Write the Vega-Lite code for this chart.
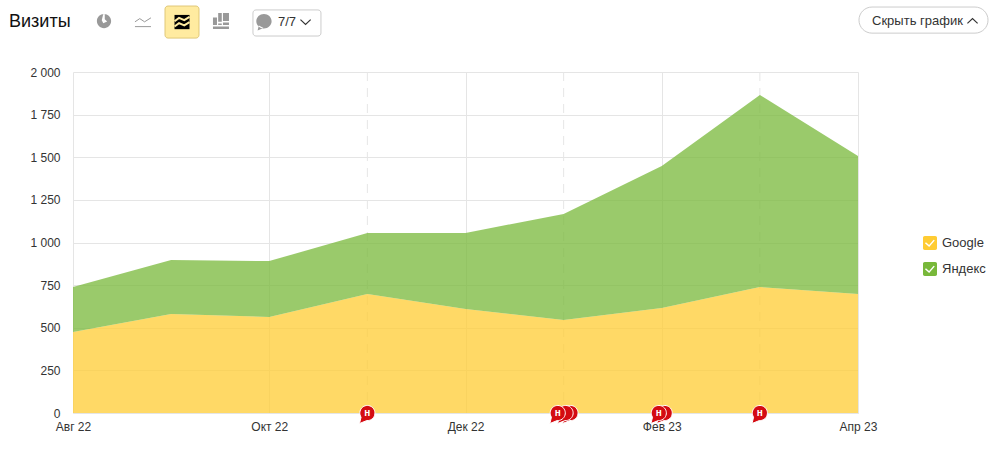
{"$schema":"https://vega.github.io/schema/vega-lite/v6.json","width":785,"height":341,"autosize":"none","padding":{"left":73,"top":72,"right":148,"bottom":48},"background":"white","config":{"view":{"stroke":null},"font":"Liberation Sans","text":{"font":"Liberation Sans"}},"datasets":{"visits":[{"m":0,"source":"Google","visits":475},{"m":1,"source":"Google","visits":581},{"m":2,"source":"Google","visits":563},{"m":3,"source":"Google","visits":698},{"m":4,"source":"Google","visits":610},{"m":5,"source":"Google","visits":545},{"m":6,"source":"Google","visits":616},{"m":7,"source":"Google","visits":739},{"m":8,"source":"Google","visits":698},{"m":0,"source":"Яндекс","visits":264},{"m":1,"source":"Яндекс","visits":316},{"m":2,"source":"Яндекс","visits":328},{"m":3,"source":"Яндекс","visits":358},{"m":4,"source":"Яндекс","visits":446},{"m":5,"source":"Яндекс","visits":622},{"m":6,"source":"Яндекс","visits":833},{"m":7,"source":"Яндекс","visits":1126},{"m":8,"source":"Яндекс","visits":809}],"notes":[{"m":3,"base":0,"lead":1},{"m":5.07,"base":0,"lead":0},{"m":5.02,"base":0,"lead":0},{"m":4.94,"base":0,"lead":1},{"m":6.03,"base":0,"lead":0},{"m":5.97,"base":0,"lead":1},{"m":7,"base":0,"lead":1}],"dashes":[{"m":3},{"m":5},{"m":7}]},"layer":[{"data":{"name":"dashes"},"mark":{"type":"rule","color":"#e6e6e6","strokeWidth":1,"strokeDash":[9,7]},"encoding":{"x":{"field":"m","type":"quantitative","scale":{"domain":[0,8],"nice":false,"zero":false},"title":null,"axis":{"values":[0,2,4,6,8],"labelExpr":"{0:'Авг 22',2:'Окт 22',4:'Дек 22',6:'Фев 23',8:'Апр 23'}[datum.value]","grid":true,"gridColor":"#e5e5e5","ticks":false,"domain":true,"domainColor":"#e5e5e5","labelFontSize":12,"labelColor":"#333333","labelPadding":8,"labelFont":"Liberation Sans","labelFlush":false}}}},{"data":{"name":"visits"},"mark":{"type":"area","opacity":0.75,"interpolate":"linear","clip":false},"encoding":{"x":{"field":"m","type":"quantitative"},"y":{"field":"visits","type":"quantitative","stack":"zero","scale":{"domain":[0,2000],"nice":false},"title":null,"axis":{"values":[0,250,500,750,1000,1250,1500,1750,2000],"labelExpr":"replace(format(datum.value,','),',',' ')","grid":true,"gridColor":"#e5e5e5","ticks":false,"domain":false,"labelFontSize":12,"labelColor":"#333333","labelPadding":13,"labelFont":"Liberation Sans"}},"color":{"field":"source","type":"nominal","scale":{"domain":["Google","Яндекс"],"range":["#ffcc33","#78b83a"]},"title":null,"legend":{"orient":"none","legendX":850,"legendY":164,"symbolType":"M-0.75,-1H0.75A0.25,0.25,0,0,1,1,-0.75V0.75A0.25,0.25,0,0,1,0.75,1H-0.75A0.25,0.25,0,0,1,-1,0.75V-0.75A0.25,0.25,0,0,1,-0.75,-1ZM-0.58,-0.1L-0.72,0.05L-0.12,0.58L0.68,-0.35L0.52,-0.48L-0.13,0.3Z","symbolSize":196,"symbolOpacity":1,"symbolStrokeWidth":0,"labelFontSize":13,"labelColor":"#333333","labelFont":"Liberation Sans","rowPadding":12,"labelOffset":5}},"order":{"field":"source","sort":"ascending"}}},{"data":{"name":"notes"},"mark":{"type":"point","filled":true,"fill":"#d40b12","stroke":"white","strokeWidth":1,"opacity":1,"size":441,"shape":"M-0.6,0.4L-0.75,1L-0.05,0.72A0.72,0.72,0,1,0,-0.6,0.4Z"},"encoding":{"x":{"field":"m","type":"quantitative"},"y":{"field":"base","type":"quantitative"}}},{"data":{"name":"notes"},"transform":[{"filter":"datum.lead==1"}],"mark":{"type":"text","text":"н","color":"white","fontWeight":"bold","fontSize":10,"align":"center","baseline":"middle"},"encoding":{"x":{"field":"m","type":"quantitative"},"y":{"field":"base","type":"quantitative"}}},{"data":{"values":[{"a":0.9376,"b":1.284,"c":2387,"d":2199}]},"mark":{"type":"rect","fill":"#ffeba0","stroke":"#e0c878","cornerRadius":3},"encoding":{"x":{"field":"a","type":"quantitative"},"x2":{"field":"b"},"y":{"field":"c","type":"quantitative"},"y2":{"field":"d"}}},{"data":{"values":[{"a":1.834,"b":2.527,"c":2364,"d":2211}]},"mark":{"type":"rect","fill":"white","stroke":"#cccccc","cornerRadius":3},"encoding":{"x":{"field":"a","type":"quantitative"},"x2":{"field":"b"},"y":{"field":"c","type":"quantitative"},"y2":{"field":"d"}}},{"data":{"values":[{"a":8.01,"b":9.325,"c":2381,"d":2228}]},"mark":{"type":"rect","fill":"white","stroke":"#cccccc","cornerRadius":13},"encoding":{"x":{"field":"a","type":"quantitative"},"x2":{"field":"b"},"y":{"field":"c","type":"quantitative"},"y2":{"field":"d"}}},{"data":{"values":[{"a":0.316,"b":2299}]},"mark":{"type":"point","filled":true,"fill":"#999999","opacity":1,"size":225,"shape":"M0.95,0A0.95,0.95,0,1,1,-0.95,0A0.95,0.95,0,1,1,0.95,0ZM-0.3,-0.1L-0.1,0.3L0.42,0.05L0.1,-0.25L0.1,-0.94L-0.1,-0.94Z"},"encoding":{"x":{"field":"a","type":"quantitative"},"y":{"field":"b","type":"quantitative"}}},{"data":{"values":[{"a":0.713,"b":2299}]},"mark":{"type":"point","filled":false,"stroke":"#999999","strokeWidth":1,"opacity":1,"size":256,"shape":"M-1,0.1L-0.4,-0.3L0.2,0.1L1,-0.4M-1,0.7L1,0.7"},"encoding":{"x":{"field":"a","type":"quantitative"},"y":{"field":"b","type":"quantitative"}}},{"data":{"values":[{"a":1.111,"b":2293}]},"mark":{"type":"point","filled":true,"fill":"#000000","opacity":1,"size":225,"shape":"M-1,-0.95H1V0.95H-1Z"},"encoding":{"x":{"field":"a","type":"quantitative"},"y":{"field":"b","type":"quantitative"}}},{"data":{"values":[{"a":1.111,"b":2293}]},"mark":{"type":"point","filled":false,"stroke":"#ffeba0","strokeWidth":2,"opacity":1,"size":225,"shape":"M-1,-0.1L-0.4,-0.55L0.3,-0.25L1,-0.7M-1,0.6L-0.4,0.15L0.3,0.45L1,0"},"encoding":{"x":{"field":"a","type":"quantitative"},"y":{"field":"b","type":"quantitative"}}},{"data":{"values":[{"a":1.508,"b":2299}]},"mark":{"type":"point","filled":true,"fill":"#999999","opacity":1,"size":256,"shape":"M-1,-0.45H-0.5V0.5H-1ZM-0.35,-1H0.1V0.1H-0.35ZM-0.35,0.3H0.1V0.5H-0.35ZM0.25,-1H1V0H0.25ZM0.25,0.2H1V0.5H0.25ZM-1,0.7H1V1H-1Z"},"encoding":{"x":{"field":"a","type":"quantitative"},"y":{"field":"b","type":"quantitative"}}},{"data":{"values":[{"a":1.946,"b":2293}]},"mark":{"type":"point","filled":true,"fill":"#999999","opacity":1,"size":289,"shape":"M0.9,-0.1A0.9,0.85,0,1,1,-0.9,-0.1A0.9,0.85,0,1,1,0.9,-0.1ZM-0.6,0.4L-0.75,1L-0.05,0.7Z"},"encoding":{"x":{"field":"a","type":"quantitative"},"y":{"field":"b","type":"quantitative"}}},{"data":{"values":[{"a":2.37,"b":2293}]},"mark":{"type":"point","filled":false,"stroke":"#333333","strokeWidth":1.2,"opacity":1,"size":144,"shape":"M-0.85,-0.4L0,0.4L0.85,-0.4"},"encoding":{"x":{"field":"a","type":"quantitative"},"y":{"field":"b","type":"quantitative"}}},{"data":{"values":[{"a":9.167,"b":2299}]},"mark":{"type":"point","filled":false,"stroke":"#333333","strokeWidth":1.2,"opacity":1,"size":144,"shape":"M-0.85,0.4L0,-0.4L0.85,0.4"},"encoding":{"x":{"field":"a","type":"quantitative"},"y":{"field":"b","type":"quantitative"}}},{"data":{"values":[{"a":2.089,"b":2293,"label":"7/7"},{"a":8.143,"b":2299,"label":"Скрыть график"}]},"mark":{"type":"text","align":"left","baseline":"middle","fontSize":13,"color":"#333333","font":"Liberation Sans"},"encoding":{"x":{"field":"a","type":"quantitative"},"y":{"field":"b","type":"quantitative"},"text":{"field":"label"}}},{"data":{"values":[{"a":-0.652,"b":2293,"label":"Визиты"}]},"mark":{"type":"text","align":"left","baseline":"middle","fontSize":18,"color":"#111111","font":"Liberation Sans"},"encoding":{"x":{"field":"a","type":"quantitative"},"y":{"field":"b","type":"quantitative"},"text":{"field":"label"}}}]}
